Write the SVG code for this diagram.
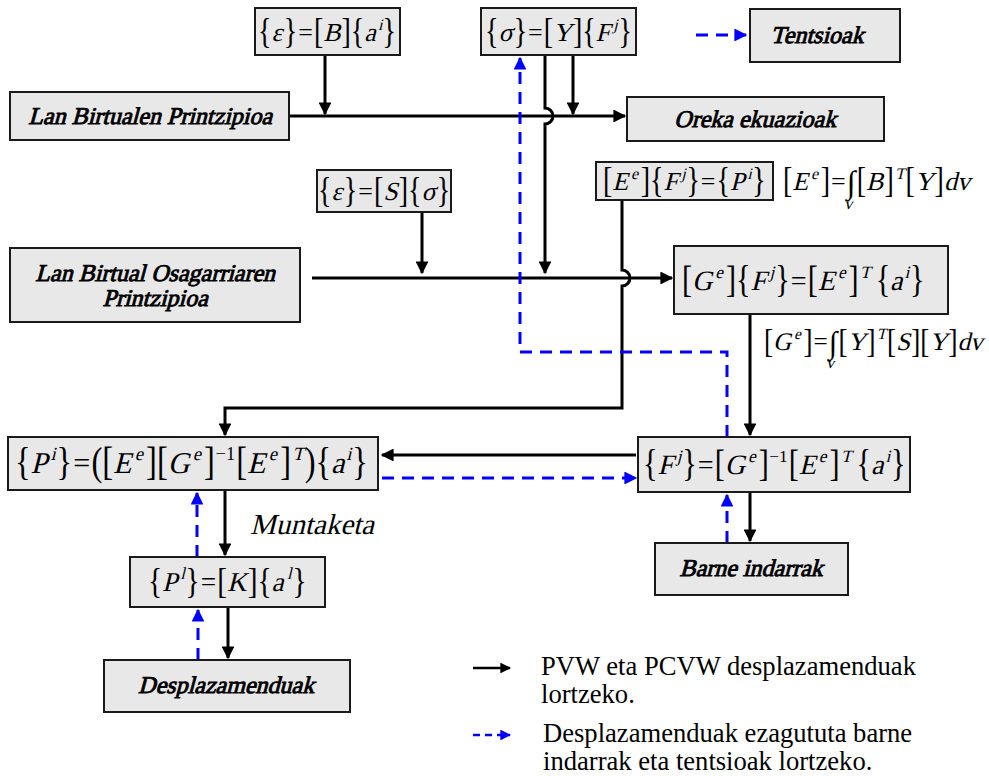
<svg xmlns="http://www.w3.org/2000/svg" width="989" height="776" viewBox="0 0 989 776">
<style>
.box{fill:#e8e8e8;stroke:#1a1a1a;stroke-width:2}
.lbl{font-family:"Liberation Serif",serif;font-size:24px;text-anchor:middle;fill:#000;stroke:#000;stroke-width:0.9}
.fb{font-family:"Liberation Serif",serif;font-size:28px;fill:#000}
.fo{font-family:"Liberation Serif",serif;font-size:26px;fill:#000}
.fl{font-family:"Liberation Serif",serif;font-size:26px;fill:#000}
.s{font-size:16px}
.ln{stroke:#000;stroke-width:3;fill:none}
.dash{stroke:#00f;stroke-width:3;stroke-dasharray:12 8;fill:none}
.leg{font-family:"Liberation Serif",serif;font-size:26.6px;fill:#000}
.mt{font-family:"Liberation Serif",serif;font-size:29px;fill:#000}
</style>
<defs>
<marker id="ah" viewBox="0 0 10 10" refX="9" refY="5" markerWidth="5" markerHeight="4.3" orient="auto" markerUnits="strokeWidth"><path d="M0,0 L10,5 L0,10 z" fill="#000"/></marker>
<marker id="ahb" viewBox="0 0 10 10" refX="9" refY="5" markerWidth="5" markerHeight="4.3" orient="auto" markerUnits="strokeWidth"><path d="M0,0 L10,5 L0,10 z" fill="#00f"/></marker>
</defs>

<!-- connectors -->
<g id="connectors">
<path class="ln" d="M289,116 H625" marker-end="url(#ah)"/>
<path class="ln" d="M325,55 V114" marker-end="url(#ah)"/>
<path class="ln" d="M573,55 V114" marker-end="url(#ah)"/>
<path class="ln" d="M545,55 V108 A8,8 0 0 1 545,124 V273" marker-end="url(#ah)"/>
<path class="ln" d="M312,278 H672" marker-end="url(#ah)"/>
<path class="ln" d="M422,212 V273" marker-end="url(#ah)"/>
<path class="ln" d="M622,200 V270 A8,8 0 0 1 622,286 V408 H225 V435" marker-end="url(#ah)"/>
<path class="ln" d="M750,314 V435" marker-end="url(#ah)"/>
<path class="ln" d="M636,455 H382" marker-end="url(#ah)"/>
<path class="dash" d="M382,478 H636" marker-end="url(#ahb)"/>
<path class="dash" d="M727,437 V352 H520 V58" marker-end="url(#ahb)"/>
<path class="ln" d="M750,492 V541" marker-end="url(#ah)"/>
<path class="dash" d="M727,543 V495" marker-end="url(#ahb)"/>
<path class="ln" d="M225,490 V555" marker-end="url(#ah)"/>
<path class="dash" d="M197,557 V493" marker-end="url(#ahb)"/>
<path class="ln" d="M228,607 V658" marker-end="url(#ah)"/>
<path class="dash" d="M198,660 V610" marker-end="url(#ahb)"/>
<path class="dash" d="M696,35 H746" marker-end="url(#ahb)"/>
</g>

<!-- nodes: formulas use stretched brackets, plain operators and slanted letters -->
<g id="eps-B">
<rect class="box" x="255" y="8" width="145" height="47"/>
<g transform="translate(258,41)">
<g transform="matrix(1,0,0,1.25,0,2)"><text class="fb"><tspan x="0">{</tspan><tspan x="25.8">}</tspan><tspan x="55.9">[</tspan><tspan x="83.5">]{</tspan><tspan x="124.6">}</tspan></text></g>
<text class="fo" x="40.2" y="0">=</text>
<text class="fl" transform="skewX(-14)"><tspan x="13.4" y="0">ε</tspan><tspan x="65.2" y="0">B</tspan><tspan x="106.2" y="0">a</tspan><tspan class="s" x="117.2" y="-11">i</tspan></text>
</g>
</g>

<g id="sigma-Y">
<rect class="box" x="481" y="8" width="155" height="47"/>
<g transform="translate(485,41)">
<g transform="matrix(1,0,0,1.25,0,2)"><text class="fb"><tspan x="0">{</tspan><tspan x="28.7">}</tspan><tspan x="58.8">[</tspan><tspan x="87.9">]{</tspan><tspan x="133.5">}</tspan></text></g>
<text class="fo" x="43.1" y="0">=</text>
<text class="fl" transform="skewX(-14)"><tspan x="13.4" y="0">σ</tspan><tspan x="68.1" y="0">Y</tspan><tspan x="110.6" y="0">F</tspan><tspan class="s" x="125.6" y="-11">j</tspan></text>
</g>
</g>

<g id="tentsioak">
<rect class="box" x="750" y="9" width="150" height="53"/>
<g transform="translate(817,43) skewX(-15)"><text class="lbl">Tentsioak</text></g>
</g>

<g id="lan-birtualen">
<rect class="box" x="10" y="92" width="279" height="48"/>
<g transform="translate(150,124) skewX(-15)"><text class="lbl">Lan Birtualen Printzipioa</text></g>
</g>

<g id="oreka">
<rect class="box" x="627" y="97" width="257" height="44"/>
<g transform="translate(755,127) skewX(-15)"><text class="lbl">Oreka ekuazioak</text></g>
</g>

<g id="E-F-P">
<rect class="box" x="596" y="162" width="177" height="38"/>
<g transform="translate(603,190)">
<g transform="matrix(1,0,0,1.25,0,2)"><text class="fb"><tspan x="0">[</tspan><tspan x="37.8">]{</tspan><tspan x="83.4">}</tspan><tspan x="113.5">{</tspan><tspan x="149.3">}</tspan></text></g>
<text class="fo" x="97.8" y="0">=</text>
<text class="fl" transform="skewX(-14)"><tspan x="9.3" y="0">E</tspan><tspan class="s" x="25.2" y="-11">e</tspan><tspan x="60.5" y="0">F</tspan><tspan class="s" x="75.5" y="-11">j</tspan><tspan x="126.9" y="0">P</tspan><tspan class="s" x="141.4" y="-11">i</tspan></text>
</g>
</g>

<g id="E-def">
<g transform="translate(783,190)">
<g transform="matrix(1,0,0,1.25,0,2)"><text class="fb"><tspan x="0">[</tspan><tspan x="37.8">]</tspan><tspan x="73.8">[</tspan><tspan x="101.4">]</tspan><tspan x="122.5">[</tspan><tspan x="151.6">]</tspan></text></g>
<text class="fo"><tspan x="48.1" y="0">=</tspan><tspan x="63.8" y="3" font-size="32">∫</tspan></text>
<text class="fl" transform="skewX(-14)"><tspan x="9.3" y="0">E</tspan><tspan class="s" x="25.2" y="-11">e</tspan><tspan class="s" x="66" y="19">v</tspan><tspan x="83.1" y="0">B</tspan><tspan class="s" x="109.2" y="-11">T</tspan><tspan x="131.8" y="0">Y</tspan><tspan x="160.9" y="0">dv</tspan></text>
</g>
</g>

<g id="eps-S">
<rect class="box" x="317" y="170" width="134" height="42"/>
<g transform="translate(318,200)">
<g transform="matrix(1,0,0,1.25,0,2)"><text class="fb"><tspan x="0">{</tspan><tspan x="25.8">}</tspan><tspan x="55.9">[</tspan><tspan x="80.7">]{</tspan><tspan x="118.7">}</tspan></text></g>
<text class="fo" x="40.2" y="0">=</text>
<text class="fl" transform="skewX(-14)"><tspan x="13.4" y="0">ε</tspan><tspan x="65.2" y="0">S</tspan><tspan x="103.4" y="0">σ</tspan></text>
</g>
</g>

<g id="lan-birtual-osagarriaren">
<rect class="box" x="10" y="248" width="290" height="74"/>
<g transform="translate(155,281) skewX(-15)"><text class="lbl">Lan Birtual Osagarriaren</text></g>
<g transform="translate(155,306) skewX(-15)"><text class="lbl">Printzipioa</text></g>
</g>

<g id="G-F-E">
<rect class="box" x="674" y="246" width="274" height="68"/>
<g transform="translate(682,290) scale(1.08)">
<g transform="matrix(1,0,0,1.25,0,2)"><text class="fb"><tspan x="0">[</tspan><tspan x="40.7">]{</tspan><tspan x="86.3">}</tspan><tspan x="116.4">[</tspan><tspan x="154.2">]</tspan><tspan x="179.3">{</tspan><tspan x="211.1">}</tspan></text></g>
<text class="fo" x="100.7" y="0">=</text>
<text class="fl" transform="skewX(-14)"><tspan x="9.3" y="0">G</tspan><tspan class="s" x="28.1" y="-11">e</tspan><tspan x="63.4" y="0">F</tspan><tspan class="s" x="78.4" y="-11">j</tspan><tspan x="125.7" y="0">E</tspan><tspan class="s" x="141.6" y="-11">e</tspan><tspan class="s" x="162" y="-11">T</tspan><tspan x="192.7" y="0">a</tspan><tspan class="s" x="203.2" y="-11">i</tspan></text>
</g>
</g>

<g id="G-def">
<g transform="translate(764,350) scale(0.97)">
<g transform="matrix(1,0,0,1.25,0,2)"><text class="fb"><tspan x="0">[</tspan><tspan x="40.7">]</tspan><tspan x="76.7">[</tspan><tspan x="105.8">]</tspan><tspan x="126.9">[</tspan><tspan x="151.7">][</tspan><tspan x="190.1">]</tspan></text></g>
<text class="fo"><tspan x="51" y="0">=</tspan><tspan x="66.7" y="3" font-size="32">∫</tspan></text>
<text class="fl" transform="skewX(-14)"><tspan x="9.3" y="0">G</tspan><tspan class="s" x="28.1" y="-11">e</tspan><tspan class="s" x="69" y="19">v</tspan><tspan x="86" y="0">Y</tspan><tspan class="s" x="113.6" y="-11">T</tspan><tspan x="136.2" y="0">S</tspan><tspan x="170.3" y="0">Y</tspan><tspan x="199.4" y="0">dv</tspan></text>
</g>
</g>

<g id="P-assembly">
<rect class="box" x="8" y="437" width="370" height="53"/>
<g transform="translate(15,473) scale(1.16)">
<g transform="matrix(1,0,0,1.25,0,2)"><text class="fb"><tspan x="0">{</tspan><tspan x="35.8">}</tspan><tspan x="65.9">([</tspan><tspan x="113">][</tspan><tspan x="163">]</tspan><tspan x="190.8">[</tspan><tspan x="228.6">]</tspan><tspan x="249.7">){</tspan><tspan x="290.8">}</tspan></text></g>
<text class="fo"><tspan x="50.2" y="0">=</tspan><tspan class="s" x="172.8" y="-11">−1</tspan></text>
<text class="fl" transform="skewX(-14)"><tspan x="13.4" y="0">P</tspan><tspan class="s" x="27.9" y="-11">i</tspan><tspan x="84.5" y="0">E</tspan><tspan class="s" x="100.4" y="-11">e</tspan><tspan x="131.6" y="0">G</tspan><tspan class="s" x="150.4" y="-11">e</tspan><tspan x="200.1" y="0">E</tspan><tspan class="s" x="216" y="-11">e</tspan><tspan class="s" x="236.4" y="-11">T</tspan><tspan x="272.4" y="0">a</tspan><tspan class="s" x="282.9" y="-11">i</tspan></text>
</g>
</g>

<g id="F-solve">
<rect class="box" x="638" y="437" width="272" height="55"/>
<g transform="translate(643,474) scale(1.08)">
<g transform="matrix(1,0,0,1.25,0,2)"><text class="fb"><tspan x="0">{</tspan><tspan x="36.3">}</tspan><tspan x="66.4">[</tspan><tspan x="107.1">]</tspan><tspan x="134.9">[</tspan><tspan x="172.7">]</tspan><tspan x="197.8">{</tspan><tspan x="229.6">}</tspan></text></g>
<text class="fo"><tspan x="50.7" y="0">=</tspan><tspan class="s" x="116.9" y="-11">−1</tspan></text>
<text class="fl" transform="skewX(-14)"><tspan x="13.4" y="0">F</tspan><tspan class="s" x="28.4" y="-11">j</tspan><tspan x="75.7" y="0">G</tspan><tspan class="s" x="94.5" y="-11">e</tspan><tspan x="144.2" y="0">E</tspan><tspan class="s" x="160.1" y="-11">e</tspan><tspan class="s" x="180.5" y="-11">T</tspan><tspan x="211.2" y="0">a</tspan><tspan class="s" x="221.7" y="-11">i</tspan></text>
</g>
</g>

<g id="muntaketa">
<g transform="translate(250,534) skewX(-14)"><text class="mt">Muntaketa</text></g>
</g>

<g id="barne-indarrak">
<rect class="box" x="655" y="543" width="193" height="52"/>
<g transform="translate(751,576) skewX(-15)"><text class="lbl">Barne indarrak</text></g>
</g>

<g id="P-K">
<rect class="box" x="130" y="557" width="195" height="50"/>
<g transform="translate(148,591) scale(1.05)">
<g transform="matrix(1,0,0,1.25,0,2)"><text class="fb"><tspan x="0">{</tspan><tspan x="35.8">}</tspan><tspan x="65.9">[</tspan><tspan x="95">]{</tspan><tspan x="137.6">}</tspan></text></g>
<text class="fo" x="50.2" y="0">=</text>
<text class="fl" transform="skewX(-14)"><tspan x="13.4" y="0">P</tspan><tspan class="s" x="27.9" y="-11">l</tspan><tspan x="75.2" y="0">K</tspan><tspan x="117.7" y="0">a</tspan><tspan class="s" x="129.7" y="-11">l</tspan></text>
</g>
</g>

<g id="desplazamenduak">
<rect class="box" x="104" y="660" width="246" height="52"/>
<g transform="translate(226,693) skewX(-15)"><text class="lbl">Desplazamenduak</text></g>
</g>

<!-- legend -->
<g id="legend">
<path d="M473,668 H510" stroke="#000" stroke-width="2.5" fill="none" marker-end="url(#ah)"/>
<text class="leg" x="541" y="675">PVW eta PCVW desplazamenduak</text>
<text class="leg" x="541" y="703">lortzeko.</text>
<path d="M473,735 H510" stroke="#00f" stroke-width="2.5" stroke-dasharray="7 5" fill="none" marker-end="url(#ahb)"/>
<text class="leg" x="543" y="742">Desplazamenduak ezagututa barne</text>
<text class="leg" x="543" y="770">indarrak eta tentsioak lortzeko.</text>
</g>
</svg>
